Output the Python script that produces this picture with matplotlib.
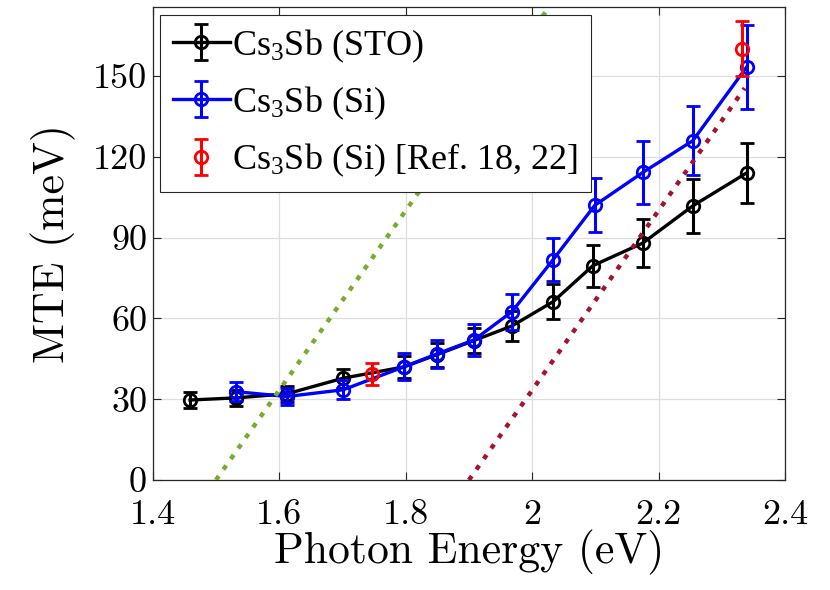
import numpy as np
import matplotlib
matplotlib.use('Agg')
import matplotlib.pyplot as plt

# Cs3Sb on STO
E_sto = [1.459, 1.532, 1.612, 1.701, 1.797, 1.849, 1.908, 1.968, 2.033, 2.096, 2.175, 2.254, 2.339]
mte_sto = [29.7, 30.5, 32.0, 37.8, 42.0, 46.5, 51.8, 57.2, 66.2, 79.6, 88.0, 101.8, 114.0]
err_sto = [3.0, 3.0, 3.0, 3.5, 4.0, 4.5, 4.5, 5.5, 6.5, 7.8, 9.0, 10.0, 11.3]

# Cs3Sb on Si
E_si = [1.532, 1.612, 1.701, 1.797, 1.849, 1.908, 1.968, 2.033, 2.099, 2.175, 2.254, 2.339]
mte_si = [32.8, 31.0, 33.5, 42.0, 46.8, 52.0, 62.5, 81.8, 102.0, 114.2, 126.0, 153.3]
err_si = [3.5, 3.0, 3.5, 5.0, 5.2, 6.0, 6.7, 8.0, 10.0, 11.6, 12.7, 15.6]

# reference points
E_ref = [1.746, 2.331]
mte_ref = [39.4, 160.2]
err_ref = [4.0, 10.2]

# dotted guide lines (end points)
green_E = [1.50, 2.03]
green_mte = [0.0, 176.7]
red_E = [1.90, 2.336]
red_mte = [0.0, 145.5]

xticks = [1.4, 1.6, 1.8, 2.0, 2.2, 2.4]
xticklabels = ['1.4', '1.6', '1.8', '2', '2.2', '2.4']
yticks = [0, 30, 60, 90, 120, 150]

plt.rcParams['font.family'] = ['Liberation Serif', 'DejaVu Serif']
plt.rcParams['mathtext.fontset'] = 'custom'
plt.rcParams['mathtext.rm'] = 'Liberation Serif'
plt.rcParams['mathtext.it'] = 'Liberation Serif:italic'

fig = plt.figure(figsize=(8.3, 5.9), dpi=100)
ax = fig.add_axes([0.184, 0.1864, 0.762, 0.8012])

kw = dict(marker='o', markersize=9, markerfacecolor='none', markeredgewidth=2.0,
          linewidth=2.4, capsize=5, capthick=2.2, elinewidth=2.2)
ax.errorbar(E_sto, mte_sto, yerr=err_sto, color='black', label='Cs$_3$Sb (STO)', zorder=3, **kw)
ax.errorbar(E_si, mte_si, yerr=err_si, color='#0000ff', label='Cs$_3$Sb (Si)', zorder=4, **kw)
kw_ref = dict(kw)
kw_ref['linewidth'] = 0
ax.errorbar(E_ref, mte_ref, yerr=err_ref, color='#ff0000', linestyle='none',
            label='Cs$_3$Sb (Si) [Ref. 18, 22]', zorder=5, **kw_ref)

ax.plot(green_E, green_mte, color='#77AC30', linewidth=3.2, linestyle=(0, (1.1, 1.8)), zorder=6)
ax.plot(red_E, red_mte, color='#A2142F', linewidth=3.2, linestyle=(0, (1.1, 1.8)), zorder=6)

ax.set_xlim(1.4, 2.4)
ax.set_ylim(0, 175.5)
ax.set_xticks(xticks)
ax.set_xticklabels(xticklabels, family='cmr10')
ax.set_yticks(yticks)
ax.set_yticklabels([str(v) for v in yticks], family='cmr10')
ax.tick_params(direction='in', top=True, right=True, labelsize=26, length=6,
               width=0.8, color='#262626')
ax.tick_params(axis='x', pad=14)
ax.tick_params(axis='y', pad=4)
for s in ax.spines.values():
    s.set_color('#262626')
    s.set_linewidth(0.9)
ax.grid(True, color='#dedede', linewidth=0.9)
ax.set_axisbelow(True)

ax.set_xlabel('Photon Energy (eV)', fontsize=31.5, family='cmr10', labelpad=-1)
ax.set_ylabel('MTE (meV)', fontsize=31.5, family='cmr10', labelpad=12)

leg = ax.legend(loc='upper left', fontsize=26, handlelength=1.6, handletextpad=0.05,
                borderpad=0.35, labelspacing=0.55, borderaxespad=0.2, fancybox=False,
                framealpha=1, edgecolor='#262626')
leg.get_frame().set_linewidth(0.8)
leg.set_zorder(10)

fig.savefig('out.png', dpi=100)
